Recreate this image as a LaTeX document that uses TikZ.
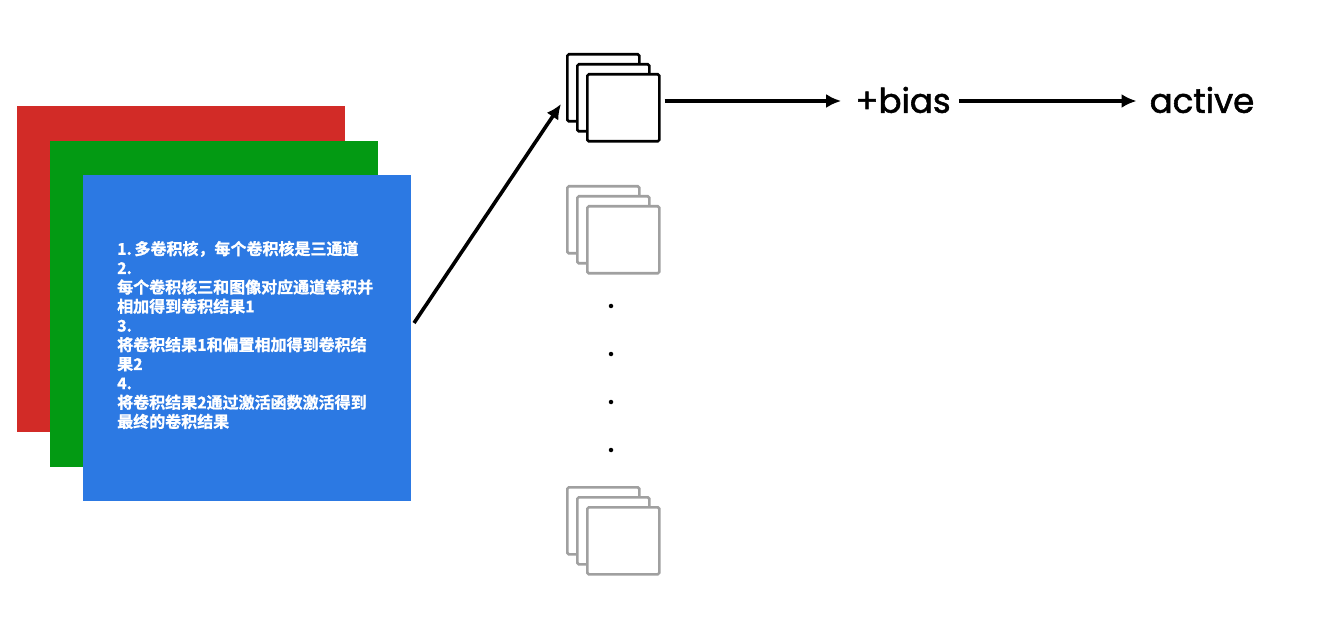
\documentclass[tikz,border=0pt]{standalone}
\usepackage{fontspec}
\setmainfont{Poppins}
\newfontfamily\hand{Poppins}[FakeBold=1.6]
\newfontfamily\cjk{Noto Sans CJK SC}[BoldFont={Noto Sans CJK SC Bold}, BoldFeatures={FakeBold=1.2}]
\usetikzlibrary{arrows.meta}
\definecolor{cred}{HTML}{D22B27}
\definecolor{cgreen}{HTML}{039A13}
\definecolor{cblue}{HTML}{2C79E3}
\definecolor{cgray}{HTML}{A0A0A0}
\tikzset{
  sheet/.style={draw=none, minimum width=328pt, minimum height=326pt, anchor=north west, inner sep=0pt},
  kern/.style={draw=black, fill=white, line width=2.6pt, rounded corners=1.5pt, minimum width=72pt, minimum height=67pt, anchor=north west, inner sep=0pt},
  kerngray/.style={kern, draw=cgray},
  flow/.style={-{Latex[length=15pt,width=14pt]}, line width=3.6pt, black},
  lbl/.style={font=\hand\fontsize{34}{38}\selectfont, inner sep=0pt},
  dotn/.style={circle, fill=black, minimum size=4.5pt, inner sep=0pt}
}
\begin{document}
\begin{tikzpicture}[x=1pt,y=-1pt]
\useasboundingbox (0,0) rectangle (1328,620);
% channel sheets
\node[sheet, fill=cred] (red) at (17,106) {};
\node[sheet, fill=cgreen] (green) at (50,141) {};
\node[sheet, fill=cblue] (blue) at (83,175) {};
\node[anchor=west, text width=270pt, align=left, inner sep=0pt, text=white,
      font=\cjk\bfseries\fontsize{16}{19.2}\selectfont] (txt) at (117,335)
  {1.\,多卷积核，每个卷积核是三通道\\
   2.\\
   每个卷积核三和图像对应通道卷积并\\
   相加得到卷积结果1\\
   3.\\
   将卷积结果1和偏置相加得到卷积结\\
   果2\\
   4.\\
   将卷积结果2通过激活函数激活得到\\
   最终的卷积结果};
% kernel stacks
\node[kern] (k1a) at (566,53) {};
\node[kern] (k1b) at (576,63) {};
\node[kern] (k1c) at (586,73) {};
\node[kerngray] (k2a) at (566,185) {};
\node[kerngray] (k2b) at (576,195) {};
\node[kerngray] (k2c) at (586,205) {};
\node[kerngray] (k3a) at (566,486) {};
\node[kerngray] (k3b) at (576,496) {};
\node[kerngray] (k3c) at (586,506) {};
% dots
\node[dotn] (d1) at (611,306) {};
\node[dotn] (d2) at (611,354) {};
\node[dotn] (d3) at (611,402) {};
\node[dotn] (d4) at (611,450) {};
% labels
\node[lbl] (bias) at (903,100) {+bias};
\node[lbl] (act) at (1202,100) {active};
% connectors
\coordinate (s0) at (414,323);
\coordinate (t0) at (561,104);
\draw[flow] (s0) -- (t0);
\draw[flow, shorten <=4pt, shorten >=14pt] (k1c.east |- 0,101) -- (bias.west |- 0,101);
\draw[flow, shorten <=8pt, shorten >=13pt] (bias.east |- 0,101) -- (act.west |- 0,101);
\end{tikzpicture}
\end{document}
